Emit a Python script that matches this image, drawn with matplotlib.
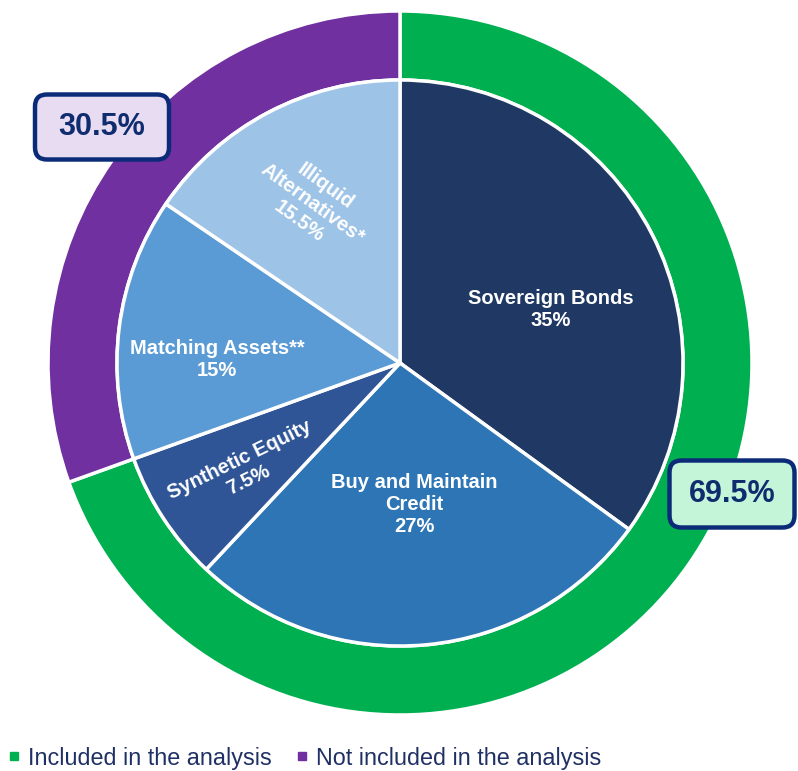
import matplotlib.pyplot as plt
from matplotlib.lines import Line2D
from matplotlib.patches import FancyBboxPatch

plt.rcParams['font.family'] = ['Liberation Sans', 'DejaVu Sans']

# inner pie: asset classes (clockwise from 12 o'clock)
assets = ["Sovereign Bonds", "Buy and Maintain\nCredit", "Synthetic Equity",
          "Matching Assets**", "Illiquid\nAlternatives*"]
asset_pct = [35, 27, 7.5, 15, 15.5]
asset_colors = ["#203864", "#2E75B6", "#2F5597", "#5B9BD5", "#9DC3E6"]

# outer ring: coverage of the analysis
groups = ["Included in the analysis", "Not included in the analysis"]
group_pct = [69.5, 30.5]
group_colors = ["#00B050", "#7030A0"]
group_box_colors = ["#C4F5D9", "#E8DCF3"]

W, H = 798, 771
fig = plt.figure(figsize=(W / 100, H / 100), dpi=100)
ax = fig.add_axes([0, 0, 1, 1])


def px(x, y):
    # pixel position measured from the top-left corner
    return x, H - y


cx, cy = px(400, 363)
r_out, r_in = 352, 283

ax.pie(group_pct, colors=group_colors, startangle=90, counterclock=False,
       radius=r_out, center=(cx, cy), frame=True,
       wedgeprops=dict(width=r_out - r_in, edgecolor="white", linewidth=2.5))
ax.pie(asset_pct, colors=asset_colors, startangle=90, counterclock=False,
       radius=r_in, center=(cx, cy), frame=True,
       wedgeprops=dict(edgecolor="white", linewidth=2.5))
ax.set_xlim(0, W)
ax.set_ylim(0, H)
ax.set_aspect("equal")
ax.axis("off")

# slice labels: (position, rotation)
label_pos = [((551, 310), 0), ((414, 505), 0), ((244, 470), 26),
             ((217, 360), 0), ((312, 204), -36)]
for name, pct, ((x, y), rot) in zip(assets, asset_pct, label_pos):
    ax.text(*px(x, y), f"{name}\n{pct:g}%", ha="center", va="center",
            rotation=rot, rotation_mode="anchor", color="white",
            fontsize=14.5, fontweight="bold", linespacing=1.2)

# ring totals in rounded boxes: (centre, width, height)
box_geom = [((732, 494), 125, 67), ((102, 127), 134, 65)]
for pct, fc, ((x, y), bw, bh) in zip(group_pct, group_box_colors, box_geom):
    bx, by = px(x, y)
    ax.add_patch(FancyBboxPatch((bx - bw / 2, by - bh / 2), bw, bh,
                                boxstyle="round,pad=0,rounding_size=12",
                                fc=fc, ec="#0B2A78", lw=3.2, zorder=5))
    ax.text(bx, by, f"{pct:g}%", ha="center", va="center", color="#0F2C6E",
            fontsize=22, fontweight="bold", zorder=6)

handles = [Line2D([], [], marker="s", linestyle="none", markersize=5.5,
                  markerfacecolor=c, markeredgecolor=c) for c in group_colors]
ax.legend(handles, groups, loc="center left",
          bbox_to_anchor=(7 / W, (H - 758) / H),
          ncol=2, frameon=False, fontsize=16.8, handlelength=0.6,
          handletextpad=0.3, columnspacing=1.0, borderaxespad=0, borderpad=0,
          labelcolor="#1F3064")

fig.savefig("out.png", dpi=100, facecolor="white")
